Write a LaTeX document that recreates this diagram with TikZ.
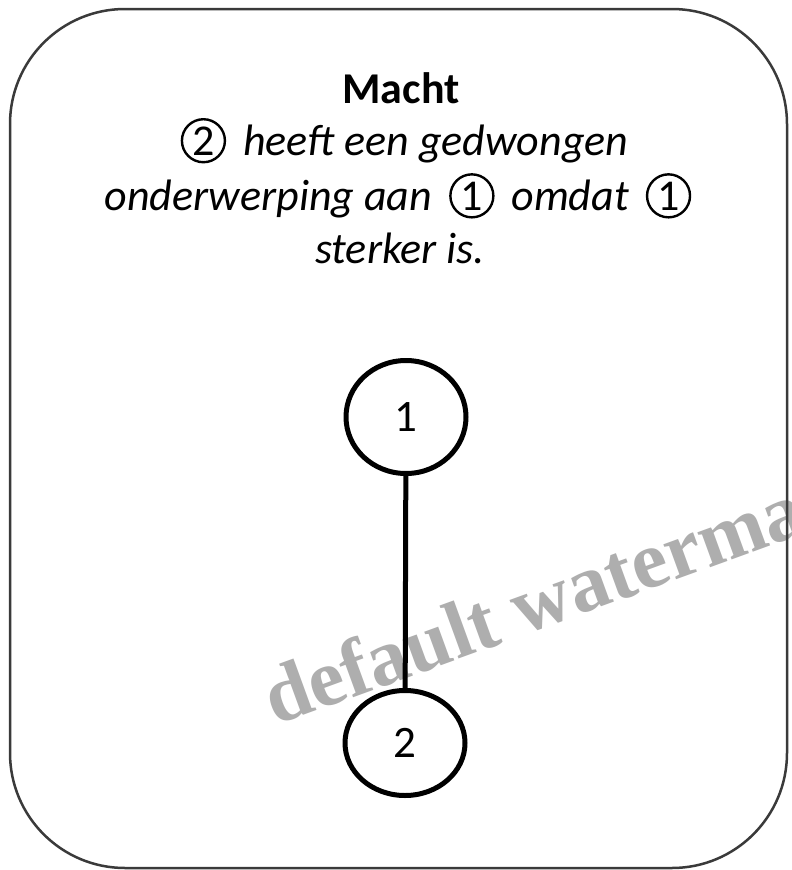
\documentclass[tikz,border=0pt]{standalone}
\usepackage{fontspec}
\setmainfont{Carlito}
\newfontfamily\wmfont{Liberation Serif}
\usetikzlibrary{shapes.geometric}
\definecolor{boxgray}{HTML}{3A3A3A}
\definecolor{wmgray}{HTML}{AEAEAE}
\newcommand{\cnum}[1]{\hspace{7pt}\tikz[baseline=(cn.base)]\node[circle,draw=black,line width=2.4pt,inner sep=0pt,minimum size=43pt,font=\upshape,anchor=center](cn){#1};\hspace{7pt}}
\tikzset{
  txt/.style={font=\fontsize{44}{53}\selectfont, inner sep=0pt, anchor=base},
  nodecirc/.style={ellipse, draw=black, line width=5pt, minimum width=120pt, minimum height=113pt, inner sep=0pt, font=\fontsize{45}{53}\selectfont},
  wmark/.style={font=\wmfont\bfseries\fontsize{81}{84}\selectfont, text=wmgray, rotate=20, anchor=base west, inner sep=0pt}
}
\begin{document}
\begin{tikzpicture}[x=1pt,y=1pt]
\useasboundingbox (0,0) rectangle (792,-870);
\clip (0,0) rectangle (792,-870);
\fill[white] (0,0) rectangle (792,-870);
\node[wmark] (wm) at (275,-726) {default watermark};
\draw[boxgray, line width=2.5pt, rounded corners=115pt] (10,-9) rectangle (787,-868);
\node[txt] (title) at (401,-103) {\bfseries Macht};
\node[txt] (l2) at (401,-155) {\cnum{2} \itshape heeft een gedwongen};
\node[txt] (l3) at (398,-210) {\itshape onderwerping aan \cnum{1} omdat \cnum{1}};
\node[txt] (l4) at (400,-263) {\itshape sterker is.};
\node[nodecirc] (n1) at (406,-417) {1};
\node[nodecirc, minimum height=105pt] (n2) at (405,-743) {2};
\draw[line width=5pt] (n1) -- (n2);
\end{tikzpicture}
\end{document}
